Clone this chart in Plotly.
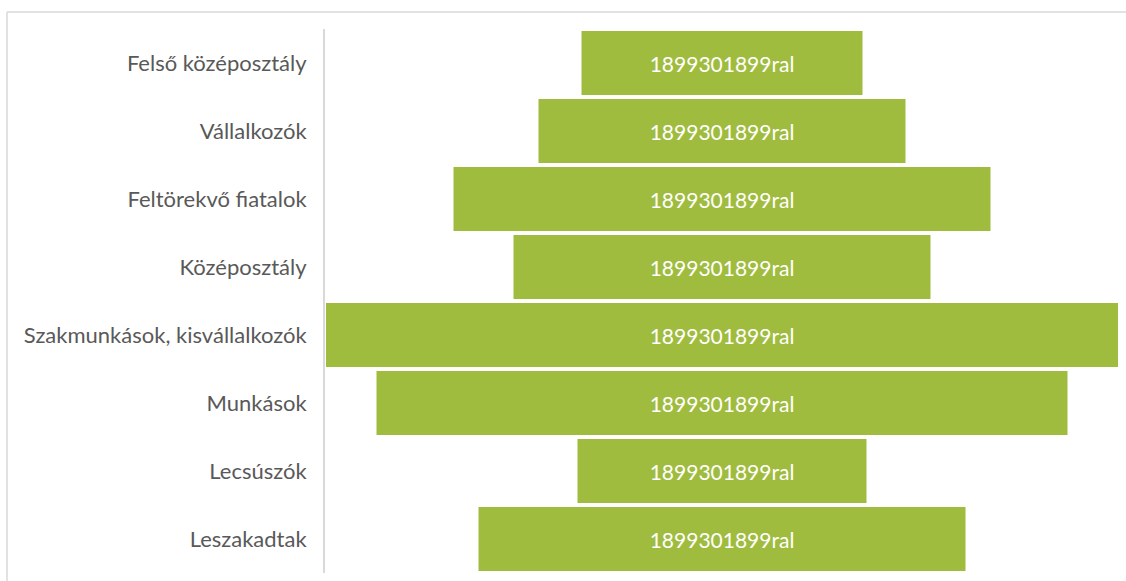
import plotly.graph_objects as go

categories = [
    "Felső középosztály",
    "Vállalkozók",
    "Feltörekvő fiatalok",
    "Középosztály",
    "Szakmunkások, kisvállalkozók",
    "Munkások",
    "Lecsúszók",
    "Leszakadtak",
]
values = [281, 367, 537, 417, 792, 691, 289, 487]
labels = ["1899301899ral"] * len(categories)

W, H = 1126, 581
L, R, T, B = 325, 7, 29, 8
pw = W - L - R
ph = H - T - B

fig = go.Figure(
    go.Funnel(
        y=categories,
        x=values,
        text=labels,
        textinfo="text",
        textposition="inside",
        insidetextanchor="middle",
        textfont=dict(family="Lato, Open Sans, sans-serif", size=21, color="white"),
        marker=dict(color="#A0BC3E", line=dict(width=0)),
        connector=dict(visible=False),
        hoverinfo="y+x",
    )
)

half = max(values) / 2
fig.update_layout(
    width=W,
    height=H,
    margin=dict(l=L, r=R, t=T, b=B),
    paper_bgcolor="white",
    plot_bgcolor="white",
    showlegend=False,
    funnelgap=0.06,
    xaxis=dict(visible=False, range=[-half - 1, half + 1]),
    yaxis=dict(
        showline=True,
        linecolor="#D9D9D9",
        linewidth=2,
        ticks="",
        showgrid=False,
        ticklabelstandoff=12,
        tickfont=dict(family="Lato, Open Sans, sans-serif", size=22, color="#595959"),
    ),
    shapes=[
        dict(type="line", xref="paper", yref="paper",
             x0=(7 - L) / pw, x1=(W + 5 - L) / pw,
             y0=1 + (T - 12) / ph, y1=1 + (T - 12) / ph,
             line=dict(color="#D9D9D9", width=1.5)),
        dict(type="line", xref="paper", yref="paper",
             x0=(7 - L) / pw, x1=(7 - L) / pw,
             y0=1 + (T - 12) / ph, y1=-(B + 5) / ph,
             line=dict(color="#D9D9D9", width=1.5)),
    ],
)

fig.write_html(
    "out.html",
    config={"displayModeBar": False},
    post_script="document.body.style.margin='0';document.body.style.overflow='hidden';",
)
